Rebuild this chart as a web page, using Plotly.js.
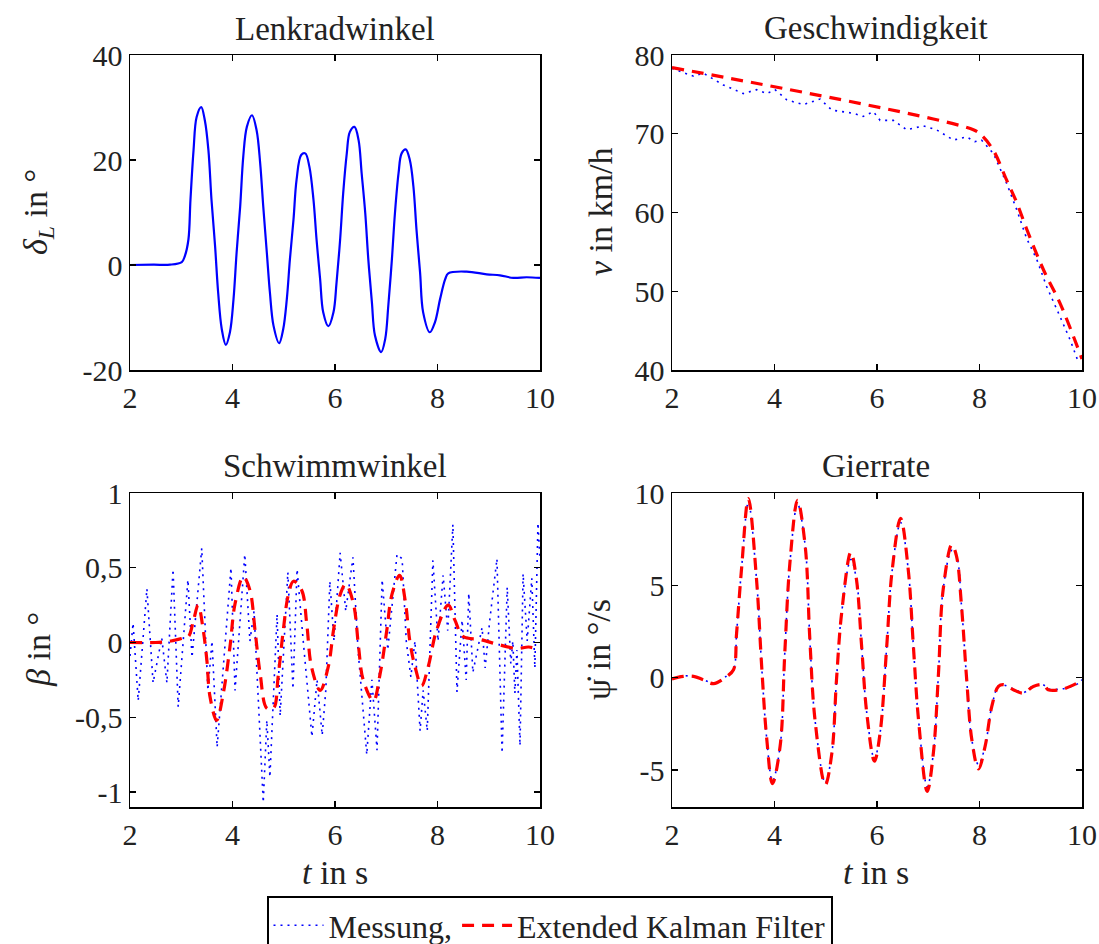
<!DOCTYPE html>
<html>
<head>
<meta charset="utf-8">
<script src="https://cdn.plot.ly/plotly-3.0.1.min.js"></script>
<style>html,body{margin:0;padding:0;background:#fff;}#chart{width:1099px;height:944px;}</style>
</head>
<body>
<div id="chart"></div>
<script>
// ---------- Data ----------
const xTicks = [2, 4, 6, 8, 10];

// Lenkradwinkel
const t_lenk = [2.0,2.46,2.78,3.01,3.07,3.14,3.18,3.24,3.30,3.39,3.46,3.53,3.59,3.66,3.72,3.79,3.87,3.95,4.02,4.08,4.15,4.21,4.28,4.38,4.47,4.54,4.60,4.67,4.73,4.80,4.91,4.99,5.06,5.12,5.19,5.25,5.34,5.42,5.50,5.58,5.64,5.71,5.77,5.87,5.97,6.03,6.10,6.16,6.23,6.29,6.38,6.46,6.52,6.59,6.65,6.72,6.78,6.90,6.98,7.04,7.11,7.17,7.24,7.30,7.38,7.46,7.53,7.59,7.66,7.72,7.85,7.95,8.05,8.15,8.21,8.57,8.96,9.22,9.48,9.74,10.0];
const lenk = [0,0.06,0.06,0.57,1.7,4.86,12.43,21.89,28.2,30.09,27.57,21.89,12.43,3.6,-5.24,-12.18,-15.21,-12.81,-6.5,2.33,11.17,20.63,26.31,28.52,25.68,19.37,11.17,2.33,-5.24,-11.55,-14.89,-12.18,-6.5,1.07,8.64,16.21,20.95,21.26,18.74,12.43,4.86,-2.71,-9.02,-11.67,-9.02,-3.34,4.86,13.69,21.26,25.36,26.31,23.79,17.48,9.91,1.07,-7.13,-13.44,-16.59,-14.07,-7.76,1.07,9.91,17.48,21.26,22.02,20.0,14.95,6.75,-1.45,-9.02,-12.81,-10.91,-6.5,-2.71,-1.58,-1.26,-1.77,-1.96,-2.46,-2.33,-2.46];

// Geschwindigkeit
const t_v_mess = [2.0,2.42,2.61,3.0,3.39,3.65,3.85,4.01,4.24,4.56,4.89,5.12,5.54,5.73,5.93,6.06,6.32,6.58,6.9,7.16,7.49,7.75,7.91,8.04,8.27,8.53,8.73,8.92,9.12,9.31,9.57,9.77,9.93];
const v_mess = [78.3,77.3,77.7,76.2,75.1,75.6,75.1,75.6,74.3,73.7,74.4,73.0,72.6,72.2,72.8,71.7,71.7,70.5,71.0,70.5,69.2,69.6,69.0,69.2,67.5,63.7,60.3,56.7,54.0,50.6,46.8,43.8,41.0];
const t_v_ekf = [2.0,7.88,8.04,8.27,8.53,8.73,8.92,9.25,9.57,10.0];
const v_ekf = [78.4,70.5,69.8,67.9,64.1,61.2,57.9,52.7,48.5,41.4];

// Schwimmwinkel
const t_beta_mess = [2.00,2.06,2.16,2.33,2.45,2.62,2.72,2.84,2.94,3.13,3.21,3.40,3.52,3.60,3.70,3.91,3.97,4.05,4.24,4.34,4.42,4.60,4.67,4.73,4.87,4.93,5.08,5.18,5.26,5.38,5.55,5.65,5.75,5.82,5.90,5.98,6.10,6.21,6.35,6.45,6.62,6.72,6.82,6.92,7.03,7.21,7.31,7.39,7.48,7.56,7.66,7.72,7.80,7.91,8.01,8.11,8.20,8.30,8.38,8.48,8.56,8.61,8.69,8.87,8.93,9.02,9.16,9.26,9.36,9.43,9.47,9.51,9.55,9.61,9.67,9.75,9.84,9.90,9.96,10.0];
const beta_mess = [-0.09,0.13,-0.39,0.36,-0.27,0.03,-0.27,0.49,-0.43,0.42,-0.10,0.63,-0.32,0.01,-0.70,0.28,0.50,-0.32,0.59,0.01,0.21,-1.07,-0.52,-0.90,0.19,-0.49,0.47,-0.31,0.49,0.01,-0.63,-0.25,-0.62,-0.32,0.41,0.01,0.60,0.21,0.57,-0.05,-0.75,-0.25,-0.72,0.42,-0.05,0.59,0.56,0.01,-0.23,0.01,-0.59,-0.32,-0.59,0.55,0.01,0.45,0.08,0.79,-0.33,0.15,-0.25,0.33,-0.20,0.10,-0.17,0.15,0.56,-0.74,0.37,-0.14,0.01,-0.34,-0.05,-0.69,0.46,0.01,0.43,-0.17,0.80,0.55];
const t_beta_ekf = [2.0,2.5,2.8,3.04,3.14,3.24,3.33,3.43,3.5,3.56,3.69,3.82,3.95,4.05,4.21,4.34,4.44,4.54,4.67,4.80,4.89,4.99,5.09,5.19,5.35,5.45,5.54,5.71,5.87,5.97,6.10,6.21,6.36,6.46,6.55,6.75,6.88,7.01,7.11,7.26,7.37,7.46,7.56,7.69,7.82,7.98,8.21,8.34,8.5,8.83,9.15,9.55,9.78,10.0];
const beta_ekf = [0,0,0.01,0.03,0.04,0.15,0.25,0.08,-0.12,-0.36,-0.52,-0.34,-0.03,0.26,0.44,0.35,0.08,-0.21,-0.44,-0.44,-0.23,0.08,0.32,0.41,0.35,0.12,-0.16,-0.32,-0.16,0.08,0.32,0.39,0.26,-0.03,-0.25,-0.39,-0.21,0.08,0.32,0.45,0.28,0.01,-0.16,-0.29,-0.16,0.08,0.25,0.15,0.04,0.02,-0.01,-0.04,-0.03,-0.05];

// Gierrate
const t_psi = [2.0,2.22,2.42,2.61,2.81,3.07,3.2,3.26,3.36,3.49,3.65,3.75,3.85,3.96,4.11,4.2,4.3,4.45,4.6,4.69,4.79,4.99,5.12,5.21,5.31,5.49,5.6,5.7,5.8,5.95,6.06,6.19,6.29,6.46,6.61,6.71,6.81,6.98,7.1,7.2,7.29,7.46,7.55,7.65,7.75,7.85,7.98,8.11,8.24,8.37,8.47,8.66,8.86,9.05,9.25,9.34,9.57,9.77,9.96,10.0];
const psi_ekf = [-0.07,0.07,0.07,-0.11,-0.32,0.07,0.43,2.4,6.0,9.7,5.3,0.6,-3.35,-5.73,-3.7,1.3,6.2,9.6,7.1,2.05,-2.27,-5.8,-4.07,-0.1,3.5,6.8,5.3,1.7,-1.9,-4.52,-3.0,1.7,5.66,8.63,5.84,1.7,-2.27,-6.15,-4.07,0.25,4.75,7.2,6.6,3.85,-0.1,-3.35,-4.94,-3.7,-1.55,-0.47,-0.38,-0.65,-0.83,-0.47,-0.38,-0.65,-0.65,-0.47,-0.2,-0.1];
const psi_mess = [-0.05,0.1,0.05,-0.1,-0.3,0.1,0.45,2.4,6.0,9.5,5.3,0.6,-3.35,-5.6,-3.7,1.3,6.2,9.4,7.1,2.05,-2.27,-5.7,-4.07,-0.1,3.5,6.4,5.3,1.7,-1.9,-4.4,-3.0,1.7,5.66,8.4,5.84,1.7,-2.27,-5.9,-4.07,0.25,4.75,6.9,6.6,3.85,-0.1,-3.35,-4.7,-3.7,-1.55,-0.45,-0.4,-0.6,-0.8,-0.45,-0.4,-0.6,-0.62,-0.5,-0.25,-0.1];

// Tick labels
const yTicksLenk = [-20, 0, 20, 40];
const yTextLenk = ['-20', '0', '20', '40'];
const yTicksV = [40, 50, 60, 70, 80];
const yTextV = ['40', '50', '60', '70', '80'];
const yTicksBeta = [-1, -0.5, 0, 0.5, 1];
const yTextBeta = ['-1', '-0,5', '0', '0,5', '1'];
const yTicksPsi = [-5, 0, 5, 10];
const yTextPsi = ['-5', '0', '5', '10'];

const titles = ['Lenkradwinkel', 'Geschwindigkeit', 'Schwimmwinkel', 'Gierrate'];
const legendNames = ['Messung,', 'Extended Kalman Filter'];

// ---------- Styling ----------
const FONT = "'Liberation Serif', serif";
const BLUE = '#0000ff', RED = '#ff0000';
const messLine = {color: BLUE, width: 1.6, dash: '2px,5px'};
const ekfLine = {color: RED, width: 3.2, dash: '12px,8px'};

const colL = [130/1099, 540/1099], colR = [672/1099, 1082/1099];
const rowT = [1-370/944, 1-55/944], rowB = [1-807/944, 1-493/944];

function xax(dom, anchor) {
  return {domain: dom, anchor: anchor, range: [2, 10], tickvals: xTicks, ticktext: xTicks.map(String),
    showgrid: false, zeroline: false, showline: true, linecolor: '#000', linewidth: 1.5, mirror: 'ticks',
    ticks: 'inside', ticklen: 6, tickwidth: 1.2, tickcolor: '#000',
    tickfont: {family: FONT, size: 30, color: '#222'}};
}
function yax(dom, anchor, range, vals, text) {
  return {domain: dom, anchor: anchor, range: range, tickvals: vals, ticktext: text,
    showgrid: false, zeroline: false, showline: true, linecolor: '#000', linewidth: 1.5, mirror: 'ticks',
    ticks: 'inside', ticklen: 6, tickwidth: 1.2, tickcolor: '#000',
    tickfont: {family: FONT, size: 30, color: '#222'}};
}

const traces = [
  {x: t_lenk, y: lenk, xaxis: 'x', yaxis: 'y', mode: 'lines', line: {color: BLUE, width: 2.2, shape: 'spline'}, showlegend: false},
  {x: t_v_mess, y: v_mess, xaxis: 'x2', yaxis: 'y2', mode: 'lines', line: messLine, showlegend: false},
  {x: t_v_ekf, y: v_ekf, xaxis: 'x2', yaxis: 'y2', mode: 'lines', line: Object.assign({shape: 'spline'}, ekfLine), showlegend: false},
  {x: t_beta_mess, y: beta_mess, xaxis: 'x3', yaxis: 'y3', mode: 'lines', line: messLine, name: legendNames[0], showlegend: true},
  {x: t_beta_ekf, y: beta_ekf, xaxis: 'x3', yaxis: 'y3', mode: 'lines', line: Object.assign({shape: 'spline'}, ekfLine), name: legendNames[1], showlegend: true},
  {x: t_psi, y: psi_mess, xaxis: 'x4', yaxis: 'y4', mode: 'lines', line: Object.assign({shape: 'spline'}, messLine), showlegend: false},
  {x: t_psi, y: psi_ekf, xaxis: 'x4', yaxis: 'y4', mode: 'lines', line: Object.assign({shape: 'spline'}, ekfLine), showlegend: false}
];

function ann(text, x, y, size, angle) {
  return {text: text, x: x/1099, y: 1 - y/944, xref: 'paper', yref: 'paper', xanchor: 'center', yanchor: 'middle',
    showarrow: false, textangle: angle || 0, font: {family: FONT, size: size, color: '#222'}};
}

const layout = {
  width: 1099, height: 944,
  margin: {l: 0, r: 0, t: 0, b: 0, autoexpand: false},
  paper_bgcolor: '#fff', plot_bgcolor: '#fff',
  font: {family: FONT, color: '#222'},
  xaxis: xax(colL, 'y'), yaxis: yax(rowT, 'x', [-20, 40], yTicksLenk, yTextLenk),
  xaxis2: xax(colR, 'y2'), yaxis2: yax(rowT, 'x2', [40, 80], yTicksV, yTextV),
  xaxis3: xax(colL, 'y3'), yaxis3: yax(rowB, 'x3', [-1.1, 1], yTicksBeta, yTextBeta),
  xaxis4: xax(colR, 'y4'), yaxis4: yax(rowB, 'x4', [-7, 10], yTicksPsi, yTextPsi),
  showlegend: true,
  legend: {orientation: 'h', x: 0.5, xanchor: 'center', y: 1 - 896/944, yanchor: 'top',
    bordercolor: '#000', borderwidth: 2, bgcolor: '#fff', itemwidth: 50,
    font: {family: FONT, size: 32, color: '#222'}},
  annotations: [
    ann(titles[0], 335, 29, 33), ann(titles[1], 876, 28, 33),
    ann(titles[2], 335, 466, 33), ann(titles[3], 876, 466, 33),
    ann('<i>δ</i><sub><i>L</i></sub> in °', 38, 212, 34, -90),
    ann('<i>v</i> in km/h', 600, 212, 34, -90),
    ann('<i>β</i> in °', 38, 650, 34, -90),
    ann('ψ̇ in °/s', 598, 650, 34, -90),
    ann('<i>t</i> in s', 335, 872, 34), ann('<i>t</i> in s', 876, 872, 34)
  ]
};

Plotly.newPlot('chart', traces, layout, {displayModeBar: false, staticPlot: true});
</script>
</body>
</html>
